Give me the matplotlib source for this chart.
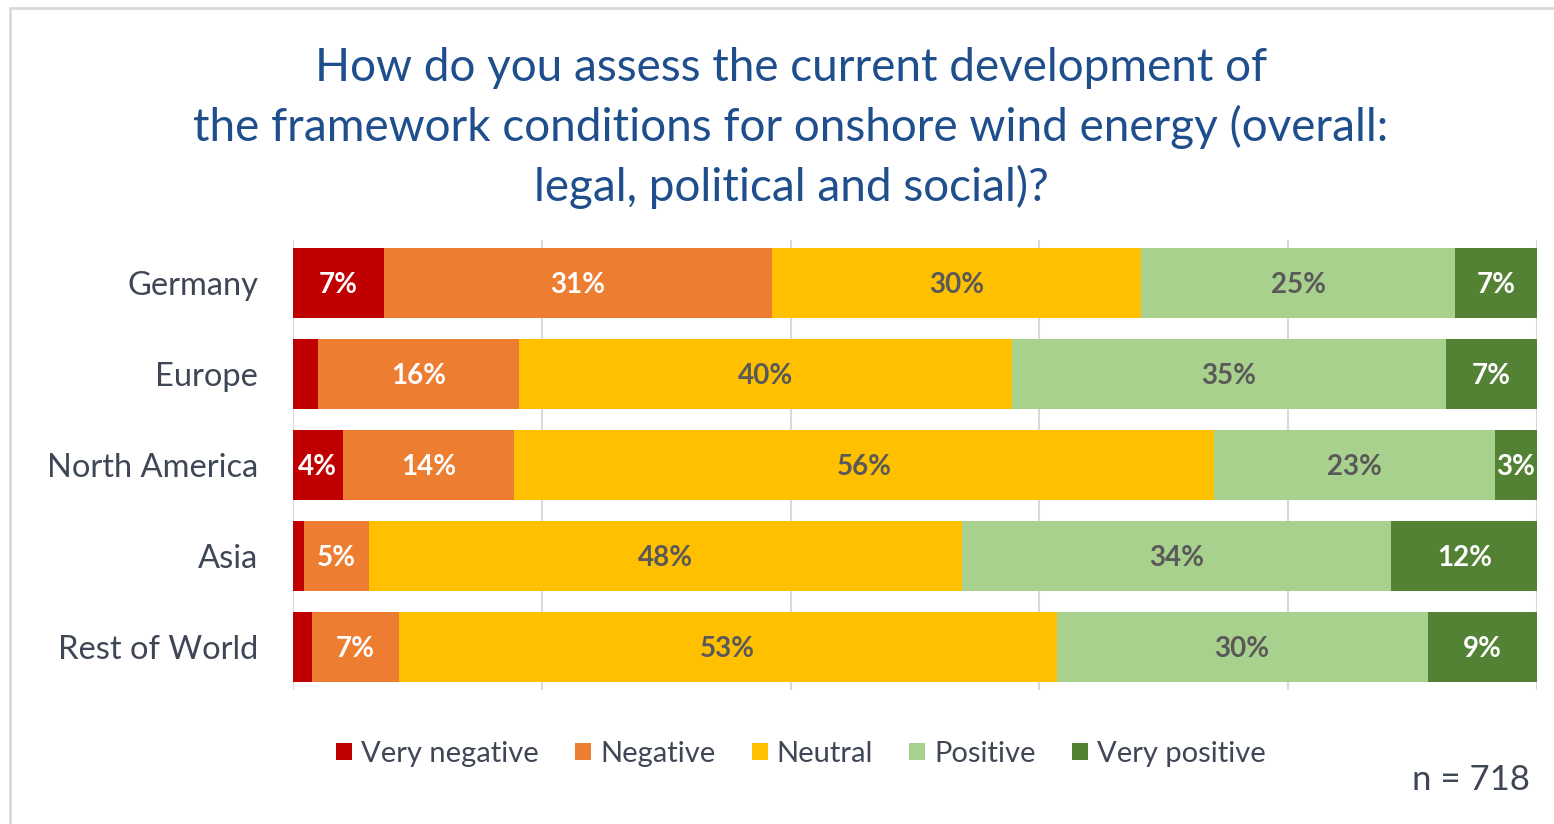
import matplotlib
matplotlib.use("Agg")
import matplotlib.pyplot as plt
from matplotlib.patches import Rectangle, Patch

plt.rcParams['font.family'] = ['Lato', 'DejaVu Sans']

# Survey answers per region, shares in percent
regions = ['Germany', 'Europe', 'North America', 'Asia', 'Rest of World']
answers = ['Very negative', 'Negative', 'Neutral', 'Positive', 'Very positive']
very_negative = [7.3, 2.0, 4.0, 0.9, 1.5]
negative = [31.2, 16.2, 13.8, 5.2, 7.0]
neutral = [29.7, 39.6, 56.2, 47.7, 52.9]
positive = [25.2, 34.9, 22.6, 34.5, 29.8]
very_positive = [6.6, 7.3, 3.4, 11.7, 8.8]
n_total = 718

series = [very_negative, negative, neutral, positive, very_positive]
colors = ['#C00000', '#ED7D31', '#FFC000', '#A9D18E', '#548235']
label_colors = ['white', 'white', '#595959', '#595959', 'white']

fig = plt.figure(figsize=(15.54, 8.24), dpi=100)
ax = fig.add_axes([293 / 1554, 1 - 690 / 824, 1244 / 1554, 450 / 824])

ypos = list(range(len(regions)))
left = [0.0] * len(regions)
for vals, col, tcol in zip(series, colors, label_colors):
    ax.barh(ypos, vals, left=left, height=0.78, color=col, zorder=2)
    for y, v, l in zip(ypos, vals, left):
        if v >= 2.5:
            ax.text(l + v / 2, y + 0.02, f"{v:.0f}%", ha='center', va='center',
                    color=tcol, fontsize=20, fontweight='bold', zorder=3)
    left = [l + v for l, v in zip(left, vals)]

ax.set_xlim(0, 100)
ax.set_ylim(4.4725, -0.4725)
ax.set_xticks([0, 20, 40, 60, 80, 100])
ax.xaxis.grid(True, color='#d9d9d9', linewidth=1.5, zorder=0)
ax.tick_params(axis='x', length=0, labelbottom=False)
ax.set_yticks(ypos)
ax.set_yticklabels(regions, fontsize=23.5, color='#3f4756')
ax.tick_params(axis='y', length=0, pad=25)
for s in ax.spines.values():
    s.set_visible(False)

fig.text(791 / 1554, 1 - 128 / 824,
         "How do you assess the current development of\n"
         "the framework conditions for onshore wind energy (overall:\n"
         "legal, political and social)?",
         ha='center', va='center', fontsize=33, color='#1F4E8C',
         linespacing=1.45)

handles = [Patch(facecolor=c, edgecolor='none') for c in colors]
fig.legend(handles, answers, loc='center', bbox_to_anchor=(801 / 1554, 1 - 754 / 824),
           ncol=5, frameon=False, fontsize=21, handlelength=0.55, handleheight=0.55,
           handletextpad=0.3, columnspacing=1.25, labelcolor='#3f4756')

fig.text(1530 / 1554, 1 - 780 / 824, f"n = {n_total}", ha='right', va='center',
         fontsize=25, color='#3f4756')

# light grey outer frame
fig.patches.append(Rectangle((9.5 / 1554, -0.1), 1.2, 1 - 8.5 / 824 + 0.1,
                             transform=fig.transFigure, fill=False,
                             edgecolor='#d9d9d9', linewidth=2))

fig.savefig('out.png', dpi=100)
